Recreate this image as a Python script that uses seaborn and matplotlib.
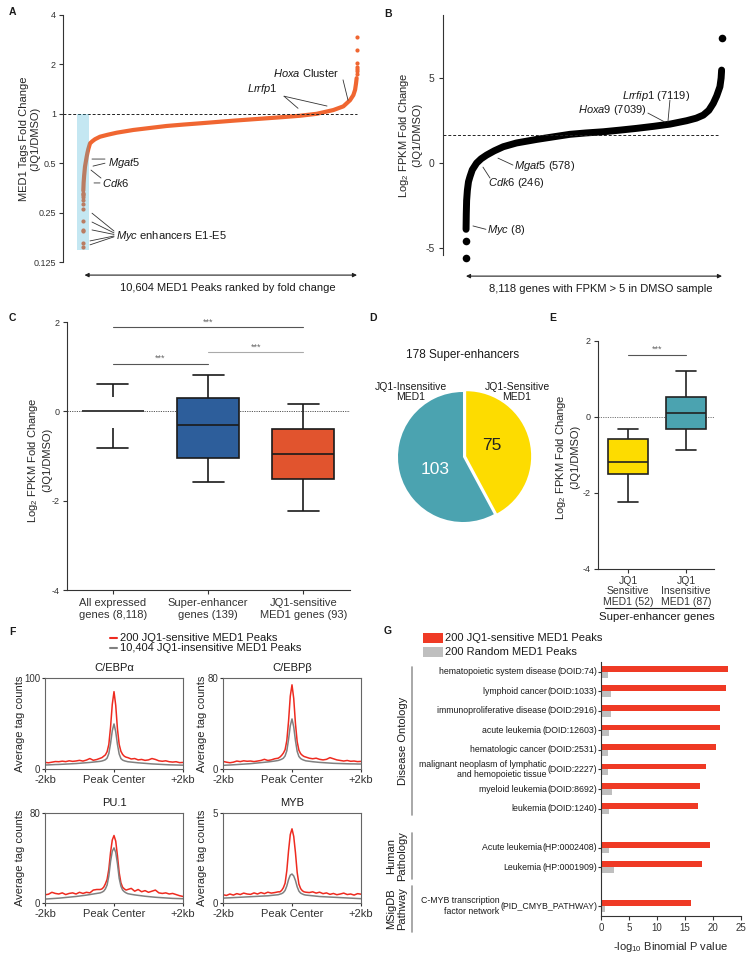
import numpy as np
import pandas as pd
import matplotlib
matplotlib.use("Agg")
import matplotlib.pyplot as plt
import matplotlib.transforms as mtransforms
from matplotlib.lines import Line2D
from matplotlib.patches import Rectangle
import seaborn as sns

# ---------------- data ----------------
# Panel A: MED1 tag fold change, peaks ranked
a_low_rank = [1, 2, 3, 4, 5, 6, 7, 8, 9, 10, 11, 12]
a_low_fc = [0.155, 0.163, 0.194, 0.197, 0.223, 0.262, 0.282, 0.300, 0.310, 0.320, 0.325, 0.330]
a_curve_rank = [13, 25, 45, 78, 110, 143, 175, 208, 272, 360, 466, 659, 950, 1305, 1948, 2600,
                3238, 3900, 4529, 5200, 5819, 6450, 7110, 7750, 8399, 9045, 9688, 10076, 10334,
                10463, 10530, 10566, 10590]
a_curve_fc = [0.34, 0.38, 0.42, 0.476, 0.51, 0.547, 0.58, 0.61, 0.66, 0.68, 0.70, 0.725, 0.745,
              0.767, 0.797, 0.82, 0.843, 0.86, 0.875, 0.892, 0.908, 0.923, 0.939, 0.955, 0.973,
              1.0, 1.054, 1.11, 1.21, 1.30, 1.40, 1.53, 1.65]
a_high_rank = [10598, 10599, 10600, 10601, 10602, 10603, 10604]
a_high_fc = [1.74, 1.82, 1.88, 1.94, 2.03, 2.45, 2.95]
a_yticks = [0.125, 0.25, 0.5, 1, 2, 4]
a_yticklabels = ["0.125", "0.25", "0.5", "1", "2", "4"]

# Panel B: log2 FPKM fold change, genes ranked
b_curve_rank = [3, 6, 10, 21, 45, 80, 127, 200, 338, 480, 655, 900, 1183, 1600, 2241, 2800, 3297,
                3800, 4353, 4900, 5410, 5950, 6467, 6996, 7300, 7524, 7700, 7841, 7950, 8052,
                8090, 8106]
b_curve_fc = [-3.9, -3.5, -3.0, -2.2, -1.6, -1.1, -0.8, -0.4, 0.0, 0.25, 0.47, 0.72, 0.96, 1.18,
              1.39, 1.55, 1.69, 1.77, 1.84, 1.94, 2.04, 2.16, 2.29, 2.49, 2.64, 2.82, 3.1, 3.51,
              3.95, 4.49, 5.0, 5.47]
b_out_rank = [1, 2, 8118]
b_out_fc = [-5.6, -4.6, 7.35]
b_yticks = [-5, 0, 5]

# Panel C: box summaries (min, q1, median, q3, max)
c_groups = ["All expressed\ngenes (8,118)", "Super-enhancer\ngenes (139)", "JQ1-sensitive\nMED1 genes (93)"]
c_all = [-0.83, -0.365, 0.0, 0.31, 0.62]
c_se = [-1.59, -1.04, -0.30, 0.30, 0.805]
c_jq1 = [-2.23, -1.51, -0.96, -0.40, 0.157]
c_yticks = [-4, -2, 0, 2]

# Panel D: pie
d_labels = ["JQ1-Sensitive\nMED1", "JQ1-Insensitive\nMED1"]
d_counts = [75, 103]

# Panel E: box summaries
e_groups = ["JQ1\nSensitive\nMED1 (52)", "JQ1\nInsensitive\nMED1 (87)"]
e_sensitive = [-2.24, -1.51, -1.18, -0.587, -0.31]
e_insensitive = [-0.88, -0.32, 0.105, 0.53, 1.21]

# Panel F: average tag count profiles
f_pos = [-2000, -1900, -1800, -1700, -1600, -1500, -1400, -1300, -1200, -1100, -1000, -900, -800,
         -700, -600, -500, -400, -350, -300, -250, -200, -150, -100, -50, 0, 50, 100, 150, 200,
         250, 300, 350, 400, 500, 600, 700, 800, 900, 1000, 1100, 1200, 1300, 1400, 1500, 1600,
         1700, 1800, 1900, 2000]
f_titles = ["C/EBPα", "C/EBPβ", "PU.1", "MYB"]
f_ymax = [100, 80, 80, 5]
f_cebpa_sens = [7.3, 6.8, 7.5, 8.2, 8.0, 8.6, 8.1, 9.0, 8.4, 8.8, 9.5, 8.7, 9.8, 11.5, 9.6, 10.4, 11.8,
                12.5, 14.0, 15.5, 19.0, 27.0, 46.0, 71.0, 85.0, 70.0, 44.0, 27.0, 19.5, 16.0, 14.0, 13.0,
                12.5, 11.0, 11.5, 10.0, 10.5, 9.5, 10.0, 11.5, 10.5, 9.0, 8.5, 9.0, 8.0, 7.6, 8.0, 7.0, 7.2]
f_cebpa_ins = [4.4, 4.5, 4.7, 4.9, 5.0, 5.2, 5.4, 5.6, 5.8, 6.0, 6.3, 6.6, 6.9, 7.2, 7.6, 8.0, 8.4,
               8.8, 9.4, 10.2, 12.0, 17.0, 28.0, 42.0, 49.5, 41.0, 27.0, 16.5, 11.5, 9.8, 9.0, 8.5,
               8.0, 7.6, 7.2, 6.8, 6.5, 6.2, 5.9, 5.6, 5.4, 5.2, 5.0, 4.8, 4.6, 4.5, 4.4, 4.3, 4.2]
f_cebpb_sens = [6.7, 6.0, 5.5, 6.0, 7.0, 6.5, 7.2, 6.8, 7.0, 6.5, 7.0, 7.5, 8.5, 7.5, 8.0, 9.0, 9.5,
                10.5, 12.0, 14.0, 17.0, 25.0, 42.0, 64.0, 74.0, 62.0, 40.0, 24.0, 16.5, 13.5, 12.0, 11.0,
                10.5, 9.5, 9.0, 9.5, 8.5, 8.0, 8.5, 10.0, 9.0, 8.0, 7.5, 7.0, 7.5, 6.8, 7.0, 6.5, 6.7]
f_cebpb_ins = [3.2, 3.4, 3.5, 3.7, 3.9, 4.1, 4.3, 4.5, 4.7, 5.0, 5.3, 5.6, 5.9, 6.2, 6.6, 7.0, 7.5,
               8.0, 8.6, 9.5, 11.5, 16.0, 26.0, 38.0, 44.0, 37.0, 25.0, 15.5, 11.0, 9.2, 8.3, 7.7,
               7.2, 6.8, 6.4, 6.1, 5.8, 5.6, 5.4, 5.2, 5.0, 4.9, 4.8, 4.7, 4.6, 4.5, 4.5, 4.4, 4.4]
f_pu1_sens = [7.3, 7.8, 9.5, 8.5, 8.0, 9.0, 7.5, 8.5, 9.0, 8.0, 9.5, 8.5, 9.5, 9.0, 11.5, 12.0, 12.0,
              12.5, 14.0, 17.0, 21.0, 30.0, 45.0, 56.0, 60.0, 55.0, 42.0, 27.0, 18.0, 14.0, 12.5, 11.5,
              12.0, 13.0, 10.5, 12.0, 10.0, 11.0, 9.5, 10.5, 11.5, 9.0, 8.5, 9.0, 8.0, 8.5, 7.5, 6.5, 5.8]
f_pu1_ins = [3.5, 3.7, 3.9, 4.1, 4.3, 4.6, 4.9, 5.2, 5.5, 5.8, 6.2, 6.6, 7.0, 7.5, 8.0, 8.5, 9.0,
             9.6, 10.5, 12.5, 16.0, 24.0, 37.0, 46.0, 49.0, 45.0, 35.0, 22.0, 15.0, 11.5, 10.0, 9.0,
             8.3, 7.7, 7.2, 6.8, 6.4, 6.0, 5.7, 5.4, 5.1, 4.9, 4.7, 4.5, 4.3, 4.1, 4.0, 3.9, 3.8]
f_myb_sens = [0.46, 0.42, 0.50, 0.44, 0.52, 0.47, 0.55, 0.50, 0.48, 0.56, 0.50, 0.58, 0.52, 0.60, 0.55,
              0.58, 0.62, 0.62, 0.70, 0.85, 1.10, 1.80, 2.90, 3.80, 4.12, 3.70, 2.80, 1.70, 1.05, 0.80,
              0.68, 0.62, 0.60, 0.58, 0.62, 0.55, 0.60, 0.52, 0.56, 0.48, 0.53, 0.46, 0.50, 0.55, 0.47,
              0.50, 0.44, 0.52, 0.49]
f_myb_ins = [0.27, 0.28, 0.29, 0.30, 0.31, 0.32, 0.33, 0.34, 0.35, 0.36, 0.37, 0.38, 0.39, 0.40, 0.42,
             0.44, 0.46, 0.49, 0.52, 0.58, 0.70, 0.95, 1.30, 1.55, 1.61, 1.50, 1.25, 0.90, 0.66, 0.55,
             0.50, 0.46, 0.44, 0.42, 0.40, 0.38, 0.36, 0.35, 0.34, 0.33, 0.32, 0.31, 0.30, 0.29, 0.28,
             0.27, 0.26, 0.25, 0.24]
f_series = ["200 JQ1-sensitive MED1 Peaks", "10,404 JQ1-insensitive MED1 Peaks"]

# Panel G: enrichment
g_terms = ["hematopoietic system disease", "lymphoid cancer", "immunoproliferative disease",
           "acute leukemia", "hematologic cancer", "malignant neoplasm of lymphatic\nand hemopoietic tissue",
           "myeloid leukemia", "leukemia", "Acute leukemia", "Leukemia", "C-MYB transcription\nfactor network"]
g_ids = ["(DOID:74)", "(DOID:1033)", "(DOID:2916)", "(DOID:12603)", "(DOID:2531)", "(DOID:2227)",
         "(DOID:8692)", "(DOID:1240)", "(HP:0002408)", "(HP:0001909)", "(PID_CMYB_PATHWAY)"]
g_group = ["Disease Ontology"] * 8 + ["Human\nPathology"] * 2 + ["MSigDB\nPathway"]
g_sensitive = [22.6, 22.3, 21.2, 21.2, 20.6, 18.7, 17.6, 17.3, 19.5, 18.1, 16.1]
g_random = [1.2, 1.7, 1.7, 1.5, 1.2, 1.3, 1.9, 1.5, 1.5, 2.3, 0.65]
g_series = ["200 JQ1-sensitive MED1 Peaks", "200 Random MED1 Peaks"]

# ---------------- style ----------------
sns.set_style("ticks")
plt.rcParams["font.family"] = ["Liberation Sans", "DejaVu Sans"]
plt.rcParams["mathtext.fontset"] = "custom"
plt.rcParams["mathtext.rm"] = "Liberation Sans"
plt.rcParams["mathtext.it"] = "Liberation Sans:italic"
plt.rcParams["mathtext.bf"] = "Liberation Sans:bold"
plt.rcParams["mathtext.default"] = "regular"
plt.rcParams["axes.unicode_minus"] = False
plt.rcParams["axes.linewidth"] = 0.8
plt.rcParams["axes.edgecolor"] = "#333333"
plt.rcParams["xtick.color"] = "#333333"
plt.rcParams["ytick.color"] = "#333333"
plt.rcParams["text.color"] = "#1a1a1a"

ORANGE = "#f06631"
RED = "#ee2b20"
GREY = "#808080"
BLUE = "#2d5e9b"
REDBOX = "#e1542e"
YELLOW = "#fddc00"
TEAL = "#4ba3b0"
GRED = "#ef3a25"
GGREY = "#bfbfbf"

W, H = 754, 960
fig = plt.figure(figsize=(W / 100, H / 100), dpi=100)


def rect(l, t, r, b):
    return [l / W, 1 - b / H, (r - l) / W, (b - t) / H]


def ftext(x, y, s, **kw):
    fig.text(x / W, 1 - y / H, s, **kw)


def lead(ax, p0, p1, color="#333333", lw=0.6):
    ax.annotate("", xy=p1, xytext=p0,
                arrowprops=dict(arrowstyle="-", color=color, lw=lw, shrinkA=0, shrinkB=0))


for s, (x, y) in zip("ABCDEFG", [(12, 12), (388, 14), (12, 318), (373, 318), (553, 318),
                                  (12, 632), (388, 631)]):
    ftext(x, y, s, fontsize=7.5, fontweight="bold", ha="center", va="center")

# ---------------- Panel A ----------------
ax = fig.add_axes(rect(63, 15, 360, 262))
ax.set_yscale("log", base=2)
sns.lineplot(x=a_curve_rank, y=a_curve_fc, ax=ax, color=ORANGE, lw=3, solid_capstyle="round")
sns.scatterplot(x=a_low_rank + a_high_rank, y=a_low_fc + a_high_fc, ax=ax, color=ORANGE,
                s=9, linewidth=0, clip_on=False)
ax.fill_betweenx([0.148, 1.0], -231, 233, color="#3eb2d4", alpha=0.3, lw=0, zorder=3)
ax.axhline(1, xmin=0, xmax=0.99, color="#222222", ls=(0, (3, 2)), lw=0.7)
ax.set_xlim(-773, 10720)
ax.set_ylim(0.125, 4)
ax.set_yticks(a_yticks)
ax.set_yticklabels(a_yticklabels)
ax.yaxis.set_minor_locator(matplotlib.ticker.NullLocator())
ax.set_xticks([])
ax.set_xlabel("")
ax.spines[["top", "right", "bottom"]].set_visible(False)
ax.tick_params(axis="y", labelsize=6.5, length=3, width=0.8, pad=2)
ax.set_ylabel("MED1 Tags Fold Change\n(JQ1/DMSO)", fontsize=8)
ax.yaxis.set_label_coords(-0.075, 0.5)
ax.annotate("", xy=(10604, -0.053), xytext=(60, -0.053), xycoords=("data", "axes fraction"),
            textcoords=("data", "axes fraction"),
            arrowprops=dict(arrowstyle="<|-|>", color="#222222", lw=0.8, mutation_scale=6,
                            shrinkA=0, shrinkB=0))
ax.text(0.555, -0.105, "10,604 MED1 Peaks ranked by fold change", transform=ax.transAxes,
        ha="center", va="center", fontsize=8)
# annotations
ax.text(9908, 1.77, r"$\mathit{Hoxa}$ Cluster", ha="right", va="center", fontsize=8)
lead(ax, (10063, 1.61), (10257, 1.21))
ax.text(6948, 1.41, r"$\mathit{Lrrfp1}$", ha="center", va="center", fontsize=8)
lead(ax, (7780, 1.28), (8322, 1.08))
lead(ax, (7780, 1.28), (9444, 1.115))
ax.text(968, 0.50, r"$\mathit{Mgat5}$", ha="left", va="center", fontsize=8)
lead(ax, (349, 0.53), (852, 0.53))
lead(ax, (388, 0.48), (852, 0.50))
ax.text(736, 0.379, r"$\mathit{Cdk6}$", ha="left", va="center", fontsize=8)
lead(ax, (311, 0.454), (697, 0.406))
lead(ax, (427, 0.379), (659, 0.379))
ax.text(1278, 0.180, r"$\mathit{Myc}$ enhancers E1-E5", ha="left", va="center", fontsize=8)
for (x0, y0), y1 in zip([(349, 0.248), (349, 0.219), (349, 0.196), (272, 0.168), (272, 0.159)],
                        [0.193, 0.188, 0.184, 0.180, 0.178]):
    lead(ax, (x0, y0), (1201, y1))

# ---------------- Panel B ----------------
ax = fig.add_axes(rect(443, 15, 725, 255))
sns.lineplot(x=b_curve_rank, y=b_curve_fc, ax=ax, color="black", lw=5, solid_capstyle="round")
sns.scatterplot(x=b_out_rank, y=b_out_fc, ax=ax, color="black", s=30, linewidth=0, clip_on=False)
ax.axhline(1.65, xmin=0, xmax=0.975, color="#222222", ls=(0, (3, 2)), lw=0.7)
ax.set_xlim(-728, 8213)
ax.set_ylim(-5.41, 8.71)
ax.set_yticks(b_yticks)
ax.set_xticks([])
ax.set_xlabel("")
ax.spines[["top", "right", "bottom"]].set_visible(False)
ax.tick_params(axis="y", labelsize=7.5, length=3, width=0.8, pad=3)
ax.set_ylabel("Log$_2$ FPKM Fold Change\n(JQ1/DMSO)", fontsize=8)
ax.yaxis.set_label_coords(-0.074, 0.5)
ax.annotate("", xy=(8118, -0.088), xytext=(0, -0.088), xycoords=("data", "axes fraction"),
            textcoords=("data", "axes fraction"),
            arrowprops=dict(arrowstyle="<|-|>", color="#222222", lw=0.8, mutation_scale=6,
                            shrinkA=0, shrinkB=0))
ax.text(0.56, -0.142, "8,118 genes with FPKM > 5 in DMSO sample", transform=ax.transAxes,
        ha="center", va="center", fontsize=8)
ax.text(666, -3.94, r"$\mathit{Myc}$ (8)", ha="left", va="center", fontsize=8)
lead(ax, (222, -3.7), (634, -3.9))
ax.text(697, -1.18, r"$\mathit{Cdk6}$ (246)", ha="left", va="center", fontsize=8)
lead(ax, (539, -0.24), (761, -0.88))
ax.text(1522, -0.18, r"$\mathit{Mgat5}$ (578)", ha="left", va="center", fontsize=8)
lead(ax, (1014, 0.29), (1490, -0.12))
ax.text(5738, 3.12, r"$\mathit{Hoxa9}$ (7039)", ha="right", va="center", fontsize=8)
lead(ax, (5769, 2.94), (6308, 2.41))
ax.text(7101, 3.94, r"$\mathit{Lrrfip1}$ (7119)", ha="right", va="center", fontsize=8)
lead(ax, (6467, 3.7), (6403, 2.41))

# ---------------- Panel C ----------------
ax = fig.add_axes(rect(67, 322, 350, 590))
ax.axhline(0, color="#555555", ls=(0, (1.2, 1.2)), lw=0.7, zorder=0)
c_df = pd.DataFrame({"group": np.repeat(c_groups, 5), "value": c_all + c_se + c_jq1})
sns.boxplot(data=c_df, x="group", y="value", hue="group", order=c_groups, hue_order=c_groups,
            palette=["white", BLUE, REDBOX], saturation=1, whis=(0, 100), width=0.65,
            linecolor="#1a1a1a", linewidth=1.2, legend=False, ax=ax)
for p in ax.patches:
    ext = p.get_path().get_extents()
    cx = (ext.x0 + ext.x1) / 2
    if cx < 0.5:
        p.set_edgecolor("none")
ax.set_xlim(-0.48, 2.49)
ax.set_ylim(-4, 2)
ax.set_yticks(c_yticks)
ax.set_xlabel("")
ax.spines[["top", "right"]].set_visible(False)
ax.tick_params(axis="y", labelsize=6.5, length=3, width=0.8, pad=2)
ax.tick_params(axis="x", labelsize=8, length=3, width=0.8, pad=3)
ax.set_ylabel("Log$_2$ FPKM Fold Change\n(JQ1/DMSO)", fontsize=8)
ax.yaxis.set_label_coords(-0.053, 0.485)
for (x0, x1, y, col) in [(0, 2, 1.88, "#555555"), (0, 1, 1.07, "#555555"), (1, 2, 1.32, "#aaaaaa")]:
    ax.plot([x0, x1], [y, y], color=col, lw=0.8, clip_on=False)
    ax.text((x0 + x1) / 2, y + 0.02, "***", ha="center", va="bottom", fontsize=6.5, color="#666666")

# ---------------- Panel D ----------------
ax = fig.add_axes(rect(391.5, 385.5, 534.5, 528.5))
ax.pie(d_counts, colors=[YELLOW, TEAL], startangle=90, counterclock=False, explode=[0.05, 0],
       wedgeprops=dict(edgecolor="none"))
ax.set_xlim(-1.1, 1.1)
ax.set_ylim(-1.1, 1.1)
ax.set_aspect("equal")
ax.text(0.446, 0.17, str(d_counts[0]), ha="center", va="center", fontsize=12.5, color="#222222")
ax.text(-0.43, -0.2, str(d_counts[1]), ha="center", va="center", fontsize=12.5, color="white")
ax.text(0.83, 1.0, d_labels[0], ha="center", va="center", fontsize=7.5, linespacing=1.1)
ax.text(-0.80, 1.0, d_labels[1], ha="center", va="center", fontsize=7.5, linespacing=1.1)
ax.text(0.0, 1.57, "178 Super-enhancers", ha="center", va="center", fontsize=8.5)

# ---------------- Panel E ----------------
ax = fig.add_axes(rect(598, 341, 714, 569))
ax.axhline(0, color="#777777", ls=(0, (1.2, 1.2)), lw=0.7, zorder=0)
e_df = pd.DataFrame({"group": np.repeat(e_groups, 5), "value": e_sensitive + e_insensitive})
sns.boxplot(data=e_df, x="group", y="value", hue="group", order=e_groups, hue_order=e_groups,
            palette=[YELLOW, TEAL], saturation=1, whis=(0, 100), width=0.69,
            linecolor="#222222", linewidth=1.2, legend=False, ax=ax)
ax.set_xlim(-0.517, 1.48)
ax.set_ylim(-4, 2)
ax.set_yticks(c_yticks)
ax.set_xlabel("")
ax.spines[["top", "right"]].set_visible(False)
ax.tick_params(axis="y", labelsize=6.5, length=3, width=0.8, pad=2)
ax.tick_params(axis="x", labelsize=7.5, length=3, width=0.8, pad=2)
for t in ax.get_xticklabels():
    t.set_linespacing(1.05)
ax.set_ylabel("Log$_2$ FPKM Fold Change\n(JQ1/DMSO)", fontsize=8)
ax.yaxis.set_label_coords(-0.155, 0.49)
ax.plot([0, 1], [1.64, 1.64], color="#555555", lw=0.8)
ax.text(0.5, 1.66, "***", ha="center", va="bottom", fontsize=6.5, color="#666666")
fig.add_artist(Line2D([605 / W, 709 / W], [1 - 608 / H] * 2, color="#222222", lw=0.8))
ftext(657, 617, "Super-enhancer genes", ha="center", va="center", fontsize=8.2)

# ---------------- Panel F ----------------
f_rects = [(45, 678, 183, 769), (223, 678, 361, 769), (45, 813, 183, 903), (223, 813, 361, 903)]
f_sens = [f_cebpa_sens, f_cebpb_sens, f_pu1_sens, f_myb_sens]
f_ins = [f_cebpa_ins, f_cebpb_ins, f_pu1_ins, f_myb_ins]
for i in range(4):
    ax = fig.add_axes(rect(*f_rects[i]))
    sns.lineplot(x=f_pos, y=f_sens[i], ax=ax, color=RED, lw=1.1)
    sns.lineplot(x=f_pos, y=f_ins[i], ax=ax, color=GREY, lw=1.1)
    ax.set_xlim(-2000, 2000)
    ax.set_ylim(0, f_ymax[i])
    ax.set_xticks([-2000, 0, 2000])
    ax.set_xticklabels(["-2kb", "Peak Center", "+2kb"])
    ax.set_yticks([0, f_ymax[i]])
    for sp in ax.spines.values():
        sp.set_color("#666666")
        sp.set_linewidth(0.8)
    ax.tick_params(axis="x", labelsize=8, length=2.5, width=0.8, pad=2)
    ax.tick_params(axis="y", labelsize=7, length=2.5, width=0.8, pad=1)
    ax.set_title(f_titles[i], fontsize=8, pad=5)
    ax.set_xlabel("")
    ax.set_ylabel("Average tag counts", fontsize=8)
    ax.yaxis.set_label_coords(-0.145 if i % 2 == 0 else -0.116, 0.5)
# legend F
for j, col in enumerate([RED, GREY]):
    y = 638 + 10 * j
    fig.add_artist(Line2D([110 / W, 117 / W], [1 - y / H] * 2, color=col, lw=1.5))
    ftext(120, y, f_series[j], ha="left", va="center", fontsize=8)

# ---------------- Panel G ----------------
ax = fig.add_axes(rect(601, 662, 741, 916))
rows = []
r = 0
prev = None
for g in g_group:
    if prev is not None and g != prev:
        r += 1
    rows.append(r)
    r += 1
    prev = g
g_df = pd.DataFrame({
    "row": rows * 2,
    "value": g_sensitive + g_random,
    "series": [g_series[0]] * len(rows) + [g_series[1]] * len(rows),
})
sns.barplot(data=g_df, x="value", y="row", hue="series", hue_order=g_series, orient="y",
            native_scale=True, width=0.6, dodge=True, palette=[GRED, GGREY], errorbar=None,
            legend=False, ax=ax, linewidth=0, saturation=1)
ax.set_xlim(0, 25)
ax.set_ylim(12.5, -0.5)
ax.set_xticks([0, 5, 10, 15, 20, 25])
ax.set_yticks(rows)
ax.set_yticklabels([""] * len(rows))
ax.spines[["top", "right"]].set_visible(False)
ax.tick_params(axis="x", labelsize=7, length=3, width=0.8, pad=2)
ax.tick_params(axis="y", length=2.5, width=0.8)
ax.set_ylabel("")
ax.set_xlabel("-log$_{10}$ Binomial P value", fontsize=8, labelpad=5)
for rr, term, gid in zip(rows, g_terms, g_ids):
    t = ax.annotate(gid, xy=(0, rr), xycoords=("axes fraction", "data"), xytext=(-2.5, 0),
                    textcoords="offset points", ha="right", va="center", fontsize=6.3)
    ax.annotate(term, xy=(0, 0.5), xycoords=t, xytext=(-1, 0), textcoords="offset points",
                ha="right", va="center", multialignment="right", fontsize=6.3, linespacing=1.25)
trans = mtransforms.blended_transform_factory(ax.transAxes, ax.transData)
group_names = list(dict.fromkeys(g_group))
spans = [(-0.22, 7.33), (8.24, 10.59), (10.95, 13.3)]
for name, (y0, y1) in zip(group_names, spans):
    ax.plot([-1.35, -1.35], [y0, y1], transform=trans, clip_on=False, color="#999999", lw=1.2)
    xt = -1.414 if "\n" not in name else -1.46
    ax.text(xt, (y0 + y1) / 2, name, rotation=90, transform=trans, ha="center", va="center",
            fontsize=8, multialignment="center", linespacing=1.1)
# legend G
for j, col in enumerate([GRED, GGREY]):
    y = 638 + 14 * j
    fig.add_artist(Rectangle((423 / W, 1 - (y + 5) / H), 20 / W, 10 / H,
                             transform=fig.transFigure, color=col, lw=0))
    ftext(445, y, g_series[j], ha="left", va="center", fontsize=8)

fig.savefig("out.png", dpi=100)
